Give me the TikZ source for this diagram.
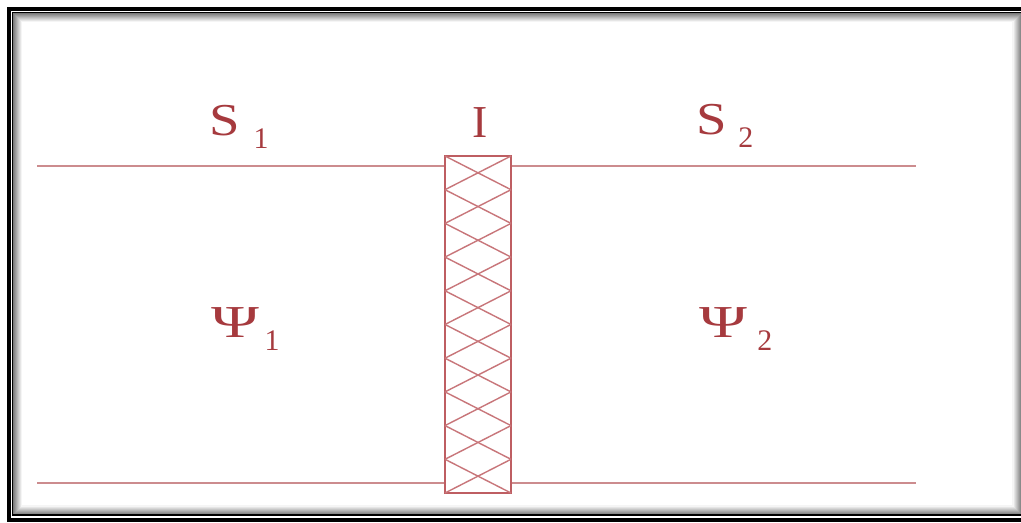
\documentclass[tikz,border=0pt]{standalone}
\usepackage{fontspec}
\setmainfont{Liberation Serif}
\usetikzlibrary{positioning}
\definecolor{rust}{HTML}{A63A3E}
\definecolor{rose}{HTML}{CC8C8E}
\definecolor{hatch}{HTML}{BE5E62}

\newcommand{\lowsub}[2][0.3em]{\kern#1\raisebox{-0.28em}{\fontsize{17}{20}\selectfont #2}}
\newcommand{\wideS}{\scalebox{1.2}[1]{S}}
\newcommand{\widePsi}{\scalebox{1.42}[1]{Ψ}}

\tikzset{
  lbl/.style={text=rust, font=\fontsize{26}{30}\selectfont, inner sep=0pt, anchor=base west},
  wall/.style={rose, line width=1.2pt},
}

\begin{document}
\begin{tikzpicture}[x=0.02cm, y=-0.02cm]
\useasboundingbox (0,0) rectangle (1021,523);
\fill[white] (0,0) rectangle (1021,523);

% Frame with inner shadow
\foreach \i [evaluate=\i as \g using 58-6*\i] in {1,...,9}
  \draw[black!\g, line width=0.6pt] (12.5+\i,12.5+\i) rectangle (1022-\i,515-\i);
\draw[line width=0.6pt] (12.5,12.5) rectangle (1022,515);
\draw[line width=2.3pt] (9,9) rectangle (1026,520);

% Barrier
\node[draw=hatch, line width=1.4pt, minimum width=1.32cm, minimum height=6.74cm,
      inner sep=0pt] (barrier) at (478,324.5) {};
\foreach \k in {0,...,9} {
  \draw[hatch!85, line width=0.8pt] (445,{156+\k*33.7}) -- (511,{156+(\k+1)*33.7});
  \draw[hatch!85, line width=0.8pt] (511,{156+\k*33.7}) -- (445,{156+(\k+1)*33.7});
}

% Guide lines
\coordinate (tl) at (37,166);
\coordinate (tr) at (916,166);
\coordinate (bl) at (37,483);
\coordinate (br) at (916,483);
\draw[wall] (tl) -- (tl -| barrier.west);
\draw[wall] (barrier.east |- tr) -- (tr);
\draw[wall] (bl) -- (bl -| barrier.west);
\draw[wall] (barrier.east |- br) -- (br);

% Labels
\node[lbl] (s1) at (209,136) {\wideS\lowsub[0.3em]{1}};
\node[lbl] (ilab) at (472,138) {I};
\node[lbl] (s2) at (696,135) {\wideS\lowsub[0.25em]{2}};
\node[lbl] (psi1) at (211,338) {\widePsi\lowsub[0.12em]{1}};
\node[lbl] (psi2) at (699,338) {\widePsi\lowsub[0.22em]{2}};

\end{tikzpicture}
\end{document}
